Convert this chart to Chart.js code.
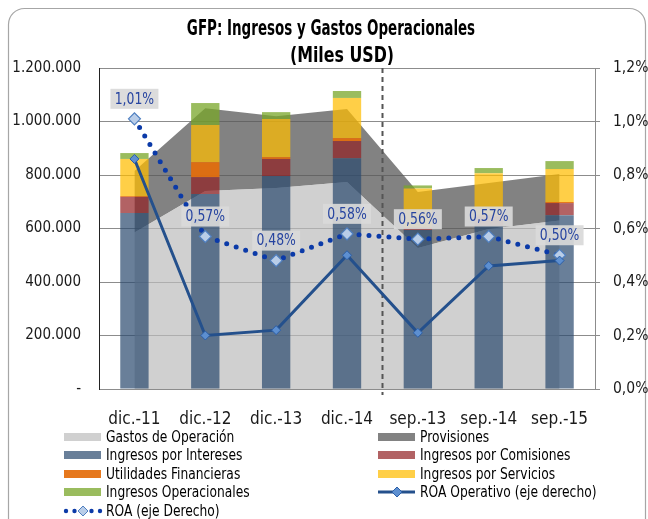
<!DOCTYPE html>
<html>
<head>
<meta charset="utf-8">
<script src="https://cdn.jsdelivr.net/npm/chart.js@4.4.0/dist/chart.umd.min.js"></script>
<style>
  html, body { margin: 0; padding: 0; background: #fff; }
  #wrap { width: 648px; height: 519px; }
</style>
</head>
<body>
<div id="wrap"><canvas id="chart" width="648" height="519"></canvas></div>
<script>
// categorias y series (miles USD / %)
const periodos = ["dic.-11", "dic.-12", "dic.-13", "dic.-14", "sep.-13", "sep.-14", "sep.-15"];
const gastosOperacion = [585000, 740000, 751000, 774000, 527000, 598000, 630000];
const provisiones = [230000, 310000, 269000, 273000, 209000, 172000, 174000];
const ingresosIntereses = [658000, 729000, 796000, 863000, 594000, 610000, 650000];
const ingresosComisiones = [60000, 63000, 64000, 64000, 8000, 35000, 45000];
const utilidadesFinancieras = [3000, 56000, 7000, 11000, 2000, 6000, 4000];
const ingresosServicios = [139000, 139000, 142000, 150000, 146000, 156000, 123000];
const ingresosOperacionales = [22000, 82000, 26000, 26000, 11000, 19000, 30000];
const roaOperativo = [0.86, 0.20, 0.22, 0.50, 0.21, 0.46, 0.48];
const roa = [1.01, 0.57, 0.48, 0.58, 0.56, 0.57, 0.50];
const roaEtiquetas = ["1,01%", "0,57%", "0,48%", "0,58%", "0,56%", "0,57%", "0,50%"];

const FONT = "'DejaVu Sans Condensed', 'DejaVu Sans', sans-serif";

function fmtMiles(v) {
  if (v === 0) return "-";
  return Math.round(v).toString().replace(/\B(?=(\d{3})+(?!\d))/g, ".");
}
function fmtPct(v) {
  return v.toFixed(1).replace(".", ",") + "%";
}

// texto comprimido horizontalmente (fuente estrecha)
function textoEstrecho(ctx, txt, x, y, sx) {
  ctx.save();
  ctx.translate(x, y);
  ctx.scale(sx, 1);
  ctx.fillText(txt, 0, 0);
  ctx.restore();
}

const framePlugin = {
  id: "frame",
  beforeDraw(chart) {
    const ctx = chart.ctx;
    ctx.save();
    ctx.fillStyle = "#fff";
    ctx.fillRect(0, 0, chart.width, chart.height);
    ctx.strokeStyle = "#a6a6a6";
    ctx.lineWidth = 1.2;
    ctx.beginPath();
    ctx.roundRect(8.5, 8.5, 637, 540, 16);
    ctx.stroke();
    ctx.fillStyle = "#000";
    ctx.font = "bold 22px " + FONT;
    ctx.textAlign = "center";
    ctx.textBaseline = "middle";
    textoEstrecho(ctx, "GFP: Ingresos y Gastos Operacionales", 331, 29, 0.68);
    textoEstrecho(ctx, "(Miles USD)", 342, 56, 0.8);
    ctx.restore();
  }
};

// linea punteada vertical entre dic.-14 y sep.-13
const separadorPlugin = {
  id: "separador",
  afterDatasetDraw(chart, args) {
    if (args.index !== 0) return;
    const x = chart.scales.x;
    const px = Math.round((x.getPixelForValue(3) + x.getPixelForValue(4)) / 2) + 0.5;
    const ctx = chart.ctx;
    ctx.save();
    ctx.strokeStyle = "#555";
    ctx.lineWidth = 2;
    ctx.setLineDash([5, 4]);
    ctx.beginPath();
    ctx.moveTo(px, chart.chartArea.top);
    ctx.lineTo(px, chart.chartArea.bottom + 6);
    ctx.stroke();
    ctx.restore();
  }
};

const etiquetasPlugin = {
  id: "etiquetas",
  afterDatasetsDraw(chart) {
    const idx = chart.data.datasets.findIndex(d => d.label === "ROA (eje Derecho)");
    const meta = chart.getDatasetMeta(idx);
    const ctx = chart.ctx;
    ctx.save();
    ctx.font = "15px " + FONT;
    ctx.textAlign = "center";
    ctx.textBaseline = "middle";
    meta.data.forEach((pt, i) => {
      const cx = pt.x, cy = pt.y - 20;
      ctx.fillStyle = "rgba(217,217,217,0.92)";
      ctx.fillRect(cx - 24, cy - 10, 48, 20);
      ctx.fillStyle = "#2644a0";
      textoEstrecho(ctx, roaEtiquetas[i], cx, cy + 1, 0.92);
    });
    ctx.restore();
  }
};

const leyendaPlugin = {
  id: "leyenda",
  afterDraw(chart) {
    const ctx = chart.ctx;
    const cols = [{sx: 64, tx: 106}, {sx: 378, tx: 420}];
    const rows = [437, 455, 474, 492, 511];
    ctx.save();
    ctx.font = "15px " + FONT;
    ctx.textBaseline = "middle";
    ctx.textAlign = "left";
    chart.data.datasets.forEach((ds, i) => {
      const col = cols[i % 2], y = rows[Math.floor(i / 2)];
      if (ds.type === "line" && !ds.fill) {
        if (ds.borderDash && ds.borderDash.length) {
          ctx.fillStyle = ds.borderColor;
          for (let k = 0; k < 5; k++) {
            if (k === 2) continue;
            ctx.beginPath();
            ctx.arc(col.sx + 2 + k * 8.5, y, 2.2, 0, Math.PI * 2);
            ctx.fill();
          }
        } else {
          ctx.strokeStyle = ds.borderColor;
          ctx.lineWidth = 3;
          ctx.beginPath();
          ctx.moveTo(col.sx, y);
          ctx.lineTo(col.sx + 37, y);
          ctx.stroke();
        }
        const mx = col.sx + 19;
        ctx.fillStyle = ds.pointBackgroundColor;
        ctx.strokeStyle = ds.pointBorderColor;
        ctx.lineWidth = 1;
        ctx.beginPath();
        ctx.moveTo(mx, y - 5); ctx.lineTo(mx + 5, y); ctx.lineTo(mx, y + 5); ctx.lineTo(mx - 5, y);
        ctx.closePath();
        ctx.fill(); ctx.stroke();
      } else {
        ctx.fillStyle = "#fff";
        ctx.fillRect(col.sx, y - 4, 37, 8);
        ctx.fillStyle = ds.backgroundColor;
        ctx.fillRect(col.sx, y - 4, 37, 8);
      }
      ctx.fillStyle = "#000";
      textoEstrecho(ctx, ds.label, col.tx, y + 1, 0.91);
    });
    ctx.restore();
  }
};

const ctx = document.getElementById("chart").getContext("2d");
new Chart(ctx, {
  type: "bar",
  data: {
    labels: periodos,
    datasets: [
      {type: "line", label: "Gastos de Operación", data: gastosOperacion, stack: "area", order: 2,
        backgroundColor: "rgba(188,188,188,0.7)", borderWidth: 0, pointRadius: 0, fill: "origin", tension: 0},
      {type: "line", label: "Provisiones", data: provisiones, stack: "area", order: 2,
        backgroundColor: "rgba(88,88,88,0.75)", borderWidth: 0, pointRadius: 0, fill: "-1", tension: 0},
      {label: "Ingresos por Intereses", data: ingresosIntereses, stack: "barras", order: 1,
        backgroundColor: "rgba(42,72,109,0.7)"},
      {label: "Ingresos por Comisiones", data: ingresosComisiones, stack: "barras", order: 1,
        backgroundColor: "rgba(146,31,34,0.7)"},
      {label: "Utilidades Financieras", data: utilidadesFinancieras, stack: "barras", order: 1,
        backgroundColor: "rgba(228,108,10,0.92)"},
      {label: "Ingresos por Servicios", data: ingresosServicios, stack: "barras", order: 1,
        backgroundColor: "rgba(255,188,0,0.72)"},
      {label: "Ingresos Operacionales", data: ingresosOperacionales, stack: "barras", order: 1,
        backgroundColor: "rgba(120,165,40,0.75)"},
      {type: "line", label: "ROA Operativo (eje derecho)", data: roaOperativo, yAxisID: "y1", order: 0,
        borderColor: "#24508c", borderWidth: 3, fill: false, tension: 0,
        pointStyle: "rectRot", pointRadius: 4.5, pointBackgroundColor: "#5d8fd0", pointBorderColor: "#2c5fa8", pointBorderWidth: 1},
      {type: "line", label: "ROA (eje Derecho)", data: roa, yAxisID: "y1", order: 0,
        borderColor: "#0b3aa8", borderWidth: 5, borderDash: [0, 10], borderCapStyle: "round", fill: false, tension: 0,
        pointStyle: "rectRot", pointRadius: 6, pointBackgroundColor: "#b9cde8", pointBorderColor: "#4f7fc0", pointBorderWidth: 1.2}
    ]
  },
  options: {
    responsive: false,
    animation: false,
    maintainAspectRatio: false,
    layout: {padding: {left: 8, right: 0, top: 68, bottom: 90}},
    datasets: {bar: {categoryPercentage: 1, barPercentage: 0.4}},
    scales: {
      x: {
        stacked: true,
        grid: {display: false},
        border: {color: "#8c8c8c"},
        ticks: {font: {family: FONT, size: 17}, color: "#1a1a1a", padding: 12, maxRotation: 0},
        afterFit(s) { s.height = 40; }
      },
      y: {
        stacked: true,
        min: 0, max: 1200000,
        ticks: {stepSize: 200000, callback: fmtMiles, font: {family: FONT, size: 15}, color: "#1a1a1a", padding: 18},
        grid: {color: "#8c8c8c", drawTicks: false},
        border: {color: "#222"},
        afterFit(s) { s.width = 91; }
      },
      y1: {
        position: "right",
        min: 0, max: 1.2,
        ticks: {stepSize: 0.2, callback: fmtPct, font: {family: FONT, size: 15.5}, color: "#1a1a1a", padding: 13},
        grid: {drawOnChartArea: false, drawTicks: true, tickLength: 5, color: "#8c8c8c"},
        border: {color: "#8c8c8c"},
        afterFit(s) { s.width = 53; }
      }
    },
    plugins: {
      legend: {display: false},
      title: {display: false},
      tooltip: {enabled: false}
    }
  },
  plugins: [framePlugin, separadorPlugin, etiquetasPlugin, leyendaPlugin]
});
</script>
</body>
</html>
